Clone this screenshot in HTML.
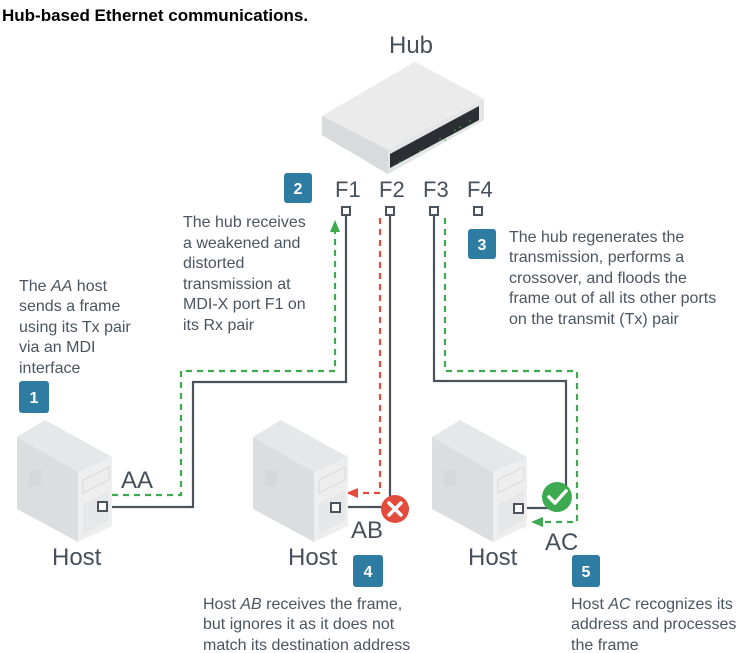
<!DOCTYPE html>
<html><head><meta charset="utf-8"><style>
html,body{margin:0;padding:0;background:#fff;}
svg{display:block}
.t{font-family:"Liberation Sans",sans-serif;font-size:16px;fill:#4a5561}
.L{font-family:"Liberation Sans",sans-serif;font-size:24px;fill:#46505b}
.b{font-family:"Liberation Sans",sans-serif;font-size:16px;font-weight:bold;fill:#fff;text-anchor:middle}
</style></head><body>
<svg width="756" height="653" viewBox="0 0 756 653" xmlns="http://www.w3.org/2000/svg">
<defs>
<g id="host">
 <polygon points="0,17 28,0 95,37 95,40 61,52" fill="#e6e7e8"/>
 <polygon points="0,17 61,52 61,122 0,89" fill="#dcddde"/>
 <polygon points="61,52 95,37 95,106 61,122" fill="#eeeeef"/>
 <polygon points="66,60 92,47 92,60 66,73" fill="none" stroke="#d8d9da"/>
 <polygon points="66,84 92,71 92,100 66,114" fill="#e6e7e8"/>
 <rect x="12" y="50" width="12" height="16" fill="#d6d7d8"/>
</g>
</defs>
<text x="2" y="21" style="font-family:'Liberation Sans',sans-serif;font-size:17px;font-weight:bold;fill:#000">Hub-based Ethernet communications.</text>
<text x="411" y="53" class="L" text-anchor="middle">Hub</text>
<!-- hub -->
<polygon points="322,116 415,62 484,99 484,120 388,174 322,135" fill="#dedfe0"/>
<polygon points="322,116 415,62 484,99 388,150" fill="#ebebec"/>
<polygon points="322,116 388,150 388,174 322,135" fill="#d9dadb"/>
<polygon points="388,150 484,99 484,120 388,174" fill="#e4e5e6"/>
<polygon points="390,154 479,106 479,120 390,168" fill="#2b2f33"/>
<g fill="#4caf50"><circle cx="400" cy="162" r="0.8"/><circle cx="420" cy="151" r="0.8"/><circle cx="440" cy="139" r="0.8"/><circle cx="455" cy="130" r="0.8"/><circle cx="470" cy="121" r="0.8"/><circle cx="445" cy="140" r="0.8"/><circle cx="460" cy="127" r="0.8"/></g>
<!-- port labels -->
<g class="L" style="font-size:22px"><text x="335" y="197">F1</text><text x="379" y="197">F2</text><text x="423" y="197">F3</text><text x="467" y="197">F4</text></g>
<g fill="#fff" stroke="#4a535c" stroke-width="2">
<rect x="342" y="207" width="8" height="8"/><rect x="386" y="207" width="8" height="8"/><rect x="430" y="207" width="8" height="8"/><rect x="474" y="207" width="8" height="8"/></g>
<!-- solid lines -->
<g fill="none" stroke="#4a535c" stroke-width="2.2">
<polyline points="346,215 346,382 193,382 193,507 108,507"/>
<polyline points="390,215 390,508"/>
<line x1="336" y1="507" x2="390" y2="507"/>
<polyline points="434,215 434,381 566,381 566,497"/>
<line x1="523" y1="508" x2="560" y2="508"/>
</g>
<!-- dashed -->
<g fill="none" stroke-width="2.2" stroke-dasharray="6,5">
<polyline stroke="#3daa52" points="112,495 181,495 181,371 335,371 335,228"/>
<polyline stroke="#e34b3d" points="380,218 380,493 356,493"/>
<polyline stroke="#3daa52" points="445,218 445,371 577,371 577,522 542,522"/>
</g>
<polygon points="335,220 330,232 340,232" fill="#3daa52"/>
<polygon points="346,493 358,488 358,498" fill="#e34b3d"/>
<polygon points="531,522 543,517 543,527" fill="#3daa52"/>
<!-- hosts -->
<use href="#host" x="17" y="420"/>
<use href="#host" x="253" y="420"/>
<use href="#host" x="432" y="420"/>
<g fill="#fff" stroke="#4a535c" stroke-width="2">
<rect x="98" y="502" width="9" height="9"/><rect x="331" y="503" width="9" height="9"/><rect x="514" y="504" width="9" height="9"/></g>
<circle cx="395" cy="509" r="14" fill="#e34b3d"/>
<path d="M389,503 L401,515 M401,503 L389,515" stroke="#fff" stroke-width="3.5" stroke-linecap="round"/>
<circle cx="557" cy="497" r="15" fill="#3daa52"/>
<path d="M549,497 L555,503 L566,491" stroke="#fff" stroke-width="3.5" fill="none" stroke-linecap="round" stroke-linejoin="round"/>
<text x="121" y="488" class="L">AA</text>
<text x="351" y="538" class="L">AB</text>
<text x="545" y="550" class="L">AC</text>
<text x="52" y="565" class="L">Host</text>
<text x="288" y="565" class="L">Host</text>
<text x="468" y="565" class="L">Host</text>
<g fill="#2e7ca1">
<rect x="284" y="173" width="28" height="30" rx="3"/>
<rect x="468" y="229" width="28" height="30" rx="3"/>
<rect x="19" y="381" width="30" height="32" rx="3"/>
<rect x="353" y="555" width="30" height="32" rx="3"/>
<rect x="572" y="555" width="28" height="32" rx="3"/>
</g>
<text x="298" y="194" class="b">2</text>
<text x="482" y="250" class="b">3</text>
<text x="34" y="403" class="b">1</text>
<text x="368" y="577" class="b">4</text>
<text x="586" y="577" class="b">5</text>
<text class="t"><tspan x="183" y="227">The hub receives</tspan><tspan x="183" y="248">a weakened and</tspan><tspan x="183" y="268">distorted</tspan><tspan x="183" y="289">transmission at</tspan><tspan x="183" y="309">MDI-X port F1 on</tspan><tspan x="183" y="330">its Rx pair</tspan></text>
<text class="t"><tspan x="19" y="291">The <tspan font-style="italic">AA</tspan> host</tspan><tspan x="19" y="311">sends a frame</tspan><tspan x="19" y="332">using its Tx pair</tspan><tspan x="19" y="352">via an MDI</tspan><tspan x="19" y="373">interface</tspan></text>
<text class="t"><tspan x="509" y="242">The hub regenerates the</tspan><tspan x="509" y="262">transmission, performs a</tspan><tspan x="509" y="283">crossover, and floods the</tspan><tspan x="509" y="303">frame out of all its other ports</tspan><tspan x="509" y="324">on the transmit (Tx) pair</tspan></text>
<text class="t"><tspan x="203" y="609">Host <tspan font-style="italic">AB</tspan> receives the frame,</tspan><tspan x="203" y="629">but ignores it as it does not</tspan><tspan x="203" y="650">match its destination address</tspan></text>
<text class="t"><tspan x="571" y="609">Host <tspan font-style="italic">AC</tspan> recognizes its</tspan><tspan x="571" y="629">address and processes</tspan><tspan x="571" y="650">the frame</tspan></text>
</svg>
</body></html>
